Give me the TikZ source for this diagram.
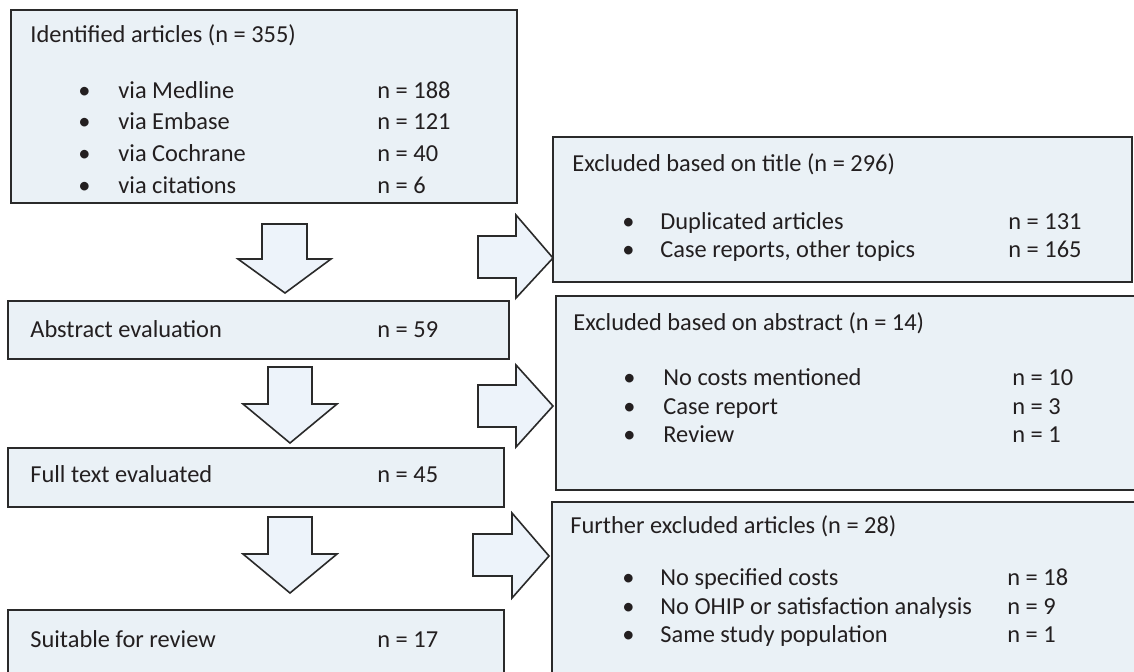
\documentclass[tikz,border=0pt]{standalone}
\usepackage{fontspec}
\setmainfont{Carlito}
\usetikzlibrary{fit}
\definecolor{boxfill}{HTML}{EAF1F6}
\definecolor{arrfill}{HTML}{EDF3FA}
\definecolor{edge}{HTML}{2A2A2A}
\definecolor{ink}{HTML}{231F20}
\begin{document}
\begin{tikzpicture}[x=0.5pt,y=-0.5pt,
 panel/.style={draw=edge, fill=boxfill, line width=0.85pt, inner sep=0pt, rectangle},
 blockarrow/.style={draw=edge, fill=arrfill, line width=0.8pt, line join=miter},
 txt/.style={anchor=base west, inner sep=0pt, text=ink, font=\fontsize{12.2}{14}\selectfont},
]
\useasboundingbox (0,0) rectangle (1134,671);
\clip (0,0) rectangle (1134,671);
\fill[white] (0,0) rectangle (1134,671);

% left column boxes
\node[panel, fit={(11,10) (517,203)}] (ident) {};
\node[panel, fit={(8,301) (509,359)}] (abseval) {};
\node[panel, fit={(8,448) (504,507)}] (fulltext) {};
\node[panel, fit={(8,610) (504,700)}] (suitable) {};

% right column boxes
\node[panel, fit={(553,137) (1132,282)}] (exTitle) {};
\node[panel, fit={(556,296) (1150,490)}] (exAbs) {};
\node[panel, fit={(552,502) (1150,700)}] (exFurther) {};

% texts: identified
\node[txt] (identT) at (30,42) {Identified articles (n = 355)};
\node[txt] (i1b) at (78,98) {\textbullet};
\node[txt] (i1) at (118,98) {via Medline};
\node[txt] (i1n) at (377,98) {n = 188};
\node[txt] (i2b) at (78,129) {\textbullet};
\node[txt] (i2) at (118,129) {via Embase};
\node[txt] (i2n) at (377,129) {n = 121};
\node[txt] (i3b) at (78,161) {\textbullet};
\node[txt] (i3) at (118,161) {via Cochrane};
\node[txt] (i3n) at (377,161) {n = 40};
\node[txt] (i4b) at (78,193) {\textbullet};
\node[txt] (i4) at (118,193) {via citations};
\node[txt] (i4n) at (377,193) {n = 6};

\node[txt] (absT) at (30,337) {Abstract evaluation};
\node[txt] (absN) at (377,337) {n = 59};
\node[txt] (fullT) at (30,482) {Full text evaluated};
\node[txt] (fullN) at (377,482) {n = 45};
\node[txt] (suitT) at (30,647) {Suitable for review};
\node[txt] (suitN) at (377,647) {n = 17};

% excluded title
\node[txt] (etT) at (572,171) {Excluded based on title (n = 296)};
\node[txt] (et1b) at (622,229) {\textbullet};
\node[txt] (et1) at (660,229) {Duplicated articles};
\node[txt] (et1n) at (1008,229) {n = 131};
\node[txt] (et2b) at (622,257) {\textbullet};
\node[txt] (et2) at (660,257) {Case reports, other topics};
\node[txt] (et2n) at (1008,257) {n = 165};

% excluded abstract
\node[txt] (eaT) at (573,330) {Excluded based on abstract (n = 14)};
\node[txt] (ea1b) at (623,385) {\textbullet};
\node[txt] (ea1) at (663,385) {No costs mentioned};
\node[txt] (ea1n) at (1012,385) {n = 10};
\node[txt] (ea2b) at (623,414) {\textbullet};
\node[txt] (ea2) at (663,414) {Case report};
\node[txt] (ea2n) at (1012,414) {n = 3};
\node[txt] (ea3b) at (623,442) {\textbullet};
\node[txt] (ea3) at (663,442) {Review};
\node[txt] (ea3n) at (1012,442) {n = 1};

% further excluded
\node[txt] (efT) at (570,533) {Further excluded articles (n = 28)};
\node[txt] (ef1b) at (622,585) {\textbullet};
\node[txt] (ef1) at (660,585) {No specified costs};
\node[txt] (ef1n) at (1007,585) {n = 18};
\node[txt] (ef2b) at (622,614) {\textbullet};
\node[txt] (ef2) at (660,614) {No OHIP or satisfaction analysis};
\node[txt] (ef2n) at (1007,614) {n = 9};
\node[txt] (ef3b) at (622,642) {\textbullet};
\node[txt] (ef3) at (660,642) {Same study population};
\node[txt] (ef3n) at (1007,642) {n = 1};

% down block arrows
\draw[blockarrow] (262,224) -- (307,224) -- (307,259) -- (331,259) -- (285,293) -- (238,259) -- (262,259) -- cycle;
\draw[blockarrow] (268,367) -- (312,367) -- (312,404) -- (337,404) -- (290,443) -- (243,404) -- (268,404) -- cycle;
\draw[blockarrow] (268,517) -- (312,517) -- (312,554) -- (337,554) -- (290,593) -- (243,554) -- (268,554) -- cycle;

% right block arrows
\draw[blockarrow] (478,236) -- (516,236) -- (516,215) -- (553,258) -- (516,298) -- (516,278) -- (478,278) -- cycle;
\draw[blockarrow] (478,385) -- (516,385) -- (516,365) -- (553,406) -- (516,447) -- (516,427) -- (478,427) -- cycle;
\draw[blockarrow] (473,534) -- (512,534) -- (512,513) -- (549,556) -- (512,598) -- (512,576) -- (473,576) -- cycle;
\end{tikzpicture}
\end{document}
